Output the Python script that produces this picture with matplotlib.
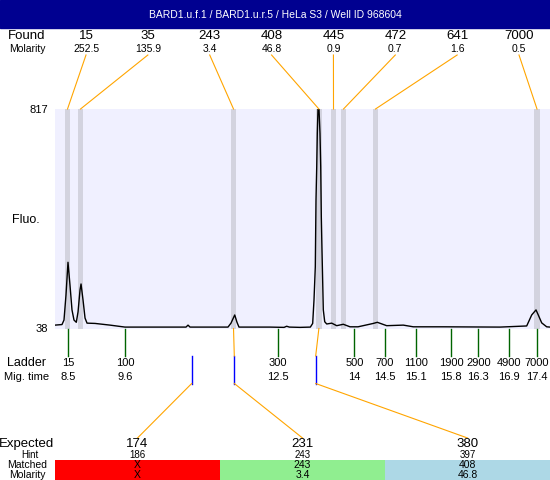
import matplotlib.pyplot as plt
from matplotlib.patches import Rectangle
import numpy as np

plt.rcParams['font.family'] = ['Liberation Sans', 'DejaVu Sans']

title = "BARD1.u.f.1 / BARD1.u.r.5 / HeLa S3 / Well ID 968604"

# electropherogram trace (migration time, fluorescence)
trace_time = [8.245, 8.378, 8.416, 8.454, 8.492, 8.530, 8.568, 8.606, 8.650, 8.683,
              8.721, 8.740, 8.778, 8.816, 8.854, 9.006, 9.291, 9.576, 10.736, 10.774,
              10.812, 11.534, 11.591, 11.662, 11.705, 11.743, 12.333, 12.60, 12.65, 12.70,
              12.903, 13.10, 13.144, 13.169, 13.194, 13.207, 13.221, 13.232, 13.245, 13.264,
              13.283, 13.297, 13.308, 13.321, 13.335, 13.346, 13.373, 13.411, 13.506, 13.601,
              13.726, 13.854, 14.006, 14.297, 14.373, 14.551, 14.867, 15.057, 15.627, 16.706,
              17.213, 17.308, 17.390, 17.433, 17.498, 17.593, 17.656]
trace_fluo = [50, 52, 68, 157, 273, 192, 104, 68, 60, 97,
              175, 196, 139, 75, 57, 56, 50, 43, 43, 50,
              43, 43, 57, 86, 60, 43, 43, 42, 46, 43,
              42, 43, 56, 139, 257, 494, 612, 731, 817, 817,
              731, 612, 435, 317, 198, 104, 62, 54, 57, 48,
              53, 44, 44, 56, 60, 48, 50, 44, 44, 43,
              47, 86, 104, 86, 58, 44, 43]

fluo_min, fluo_max = 38, 817

found_size = [15, 35, 243, 408, 445, 472, 641, 7000]
found_molarity = ["252.5", "135.9", "3.4", "46.8", "0.9", "0.7", "1.6", "0.5"]
found_time = [8.483, 8.730, 11.639, 13.262, 13.540, 13.730, 14.338, 17.409]

ladder_size = [15, 100, 300, 500, 700, 1100, 1900, 2900, 4900, 7000]
ladder_mig = ["8.5", "9.6", "12.5", "14", "14.5", "15.1", "15.8", "16.3", "16.9", "17.4"]
ladder_time = [8.5, 9.58, 12.487, 13.935, 14.515, 15.114, 15.781, 16.295, 16.882, 17.401]

expected_size = [174, 231, 380]
expected_hint = [186, 243, 397]
expected_time = [10.844, 11.654, 13.201]
matched_size = ["X", "243", "408"]
matched_molarity = ["X", "3.4", "46.8"]
matched_found = [None, 2, 3]  # index of found peak
matched_color = ['#ff0000', '#90ee90', '#add8e6']

W, H = 550, 480
fig = plt.figure(figsize=(5.5, 4.8), dpi=100)

# main trace
ax = fig.add_axes([55 / W, 1 - 328.5 / H, 495 / W, 219.5 / H])
ax.set_facecolor('#f0f0ff')
ax.set_xlim(8.245, 17.656)
ax.set_ylim(fluo_min, fluo_max)
for s in ax.spines.values():
    s.set_visible(False)
ax.set_xticks([])
ax.set_yticks([fluo_min, fluo_max])
ax.tick_params(axis='y', length=0, pad=5, labelsize=8)
for t in found_time:
    ax.axvspan(t - 0.05, t + 0.05, color='#d3d3df', lw=0)
ax.plot(trace_time, trace_fluo, color='black', lw=1)

# overlay in pixel units for the annotation rows
ov = fig.add_axes([0, 0, 1, 1])
ov.set_xlim(0, W)
ov.set_ylim(H, 0)
ov.axis('off')
ov.patch.set_visible(False)


def px(t, f):
    return ov.transData.inverted().transform(ax.transData.transform((t, f)))


ov.add_patch(Rectangle((0, 0), W, 28, color='#000090'))
ov.text(W / 2, 14.5, title, color='white', fontsize=7.5, ha='center', va='center')

orange = '#ffa500'
left_x = 27

# found peaks
ov.text(left_x, 36, "Found", fontsize=9.5, ha='center', va='center')
ov.text(left_x, 49, "Molarity", fontsize=7.5, ha='center', va='center')
label_x = np.linspace(86, 519, len(found_size))
for i in range(len(found_size)):
    ov.text(label_x[i], 36, str(found_size[i]), fontsize=9.5, ha='center', va='center')
    ov.text(label_x[i], 49, found_molarity[i], fontsize=7.5, ha='center', va='center')
    bx, by = px(found_time[i], fluo_max)
    ov.plot([label_x[i], bx], [55, by], color=orange, lw=0.8)

ov.text(26, 220, "Fluo.", fontsize=9, ha='center', va='center')

# ladder
ov.text(left_x, 363, "Ladder", fontsize=9, ha='center', va='center')
ov.text(left_x, 377, "Mig. time", fontsize=8, ha='center', va='center')
for i in range(len(ladder_size)):
    x, y = px(ladder_time[i], fluo_min)
    ov.plot([x, x], [y, 356], color='#006400', lw=1)
    ov.text(x, 363, str(ladder_size[i]), fontsize=8, ha='center', va='center')
    ov.text(x, 377, ladder_mig[i], fontsize=8, ha='center', va='center')

# expected / matched table
col_w = (W - 55) / len(expected_size)
ov.text(left_x, 444, "Expected", fontsize=9.5, ha='center', va='center')
ov.text(30, 455, "Hint", fontsize=7, ha='center', va='center')
ov.text(left_x, 465, "Matched", fontsize=7.5, ha='center', va='center')
ov.text(left_x, 474.5, "Molarity", fontsize=7.5, ha='center', va='center')
for i in range(len(expected_size)):
    left = 55 + i * col_w
    cc = left + col_w / 2
    ex, ey = px(expected_time[i], fluo_min)
    ov.plot([ex, ex], [356, 383.5], color='blue', lw=1)
    if matched_found[i] is not None:
        fx, fy = px(found_time[matched_found[i]], fluo_min)
        ov.plot([fx, ex], [fy, 356], color=orange, lw=0.8)
    ov.plot([ex, cc], [383.5, 438], color=orange, lw=0.8)
    ov.text(cc, 444, str(expected_size[i]), fontsize=9.5, ha='center', va='center')
    ov.text(cc, 455, str(expected_hint[i]), fontsize=7, ha='center', va='center')
    ov.add_patch(Rectangle((left, 460), col_w, 20, color=matched_color[i], lw=0))
    ov.text(cc, 465, matched_size[i], fontsize=7.5, ha='center', va='center')
    ov.text(cc, 474.5, matched_molarity[i], fontsize=7.5, ha='center', va='center')

fig.savefig('out.png', dpi=100)
